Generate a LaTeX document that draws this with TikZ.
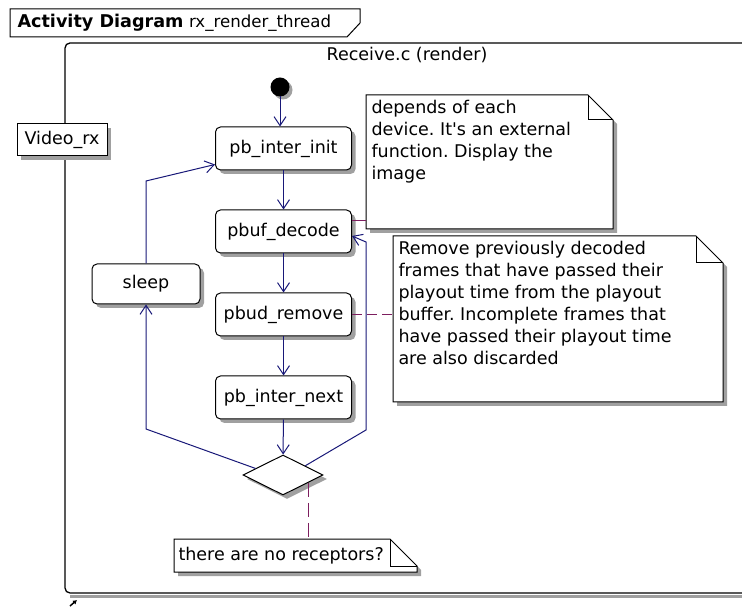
\documentclass[tikz,border=0pt]{standalone}
\usepackage{fontspec}
\setmainfont{DejaVu Sans}
\usetikzlibrary{shapes.geometric,arrows.meta,positioning,calc,shadows}
\frenchspacing

\definecolor{flow}{RGB}{24,24,120}
\definecolor{notelink}{RGB}{125,30,95}
\definecolor{shadowgray}{RGB}{160,160,160}

\tikzset{
  box shadow/.style={drop shadow={shadow xshift=4pt,shadow yshift=-4pt,fill=shadowgray,opacity=1}},
  action/.style={draw,fill=white,rounded corners=5pt,minimum width=136pt,minimum height=43pt,box shadow},
  flowline/.style={flow,-{Straight Barb[length=9pt,width=12pt]}},
  notebox/.style={inner sep=0pt,anchor=north west},
  notetext/.style={anchor=north west,align=left,inner sep=5pt},
}

% folded note outline with its shadow
\newcommand{\drawnote}[2]{%
  \fill[shadowgray] ([shift={(4pt,-4pt)}]#1.north west) -- ([shift={(4pt-#2,-4pt)}]#1.north east)
    -- ([shift={(4pt,-4pt-#2)}]#1.north east) -- ([shift={(4pt,-4pt)}]#1.south east)
    -- ([shift={(4pt,-4pt)}]#1.south west) -- cycle;
  \draw[fill=white] (#1.north west) -- ([xshift=-#2]#1.north east) -- ([yshift=-#2]#1.north east)
    -- (#1.south east) -- (#1.south west) -- cycle;
  \draw ([xshift=-#2]#1.north east) |- ([yshift=-#2]#1.north east);
}

\begin{document}
\begin{tikzpicture}[x=1pt,y=-1pt,font=\fontsize{17.5}{22}\selectfont,node distance=39pt,line width=1pt]
  \clip (0,0) rectangle (742,609);

  % title tab
  \draw[fill=white] (10,9) -- (360,9) -- (360,23) -- (347,37) -- (10,37) -- cycle;
  \node[anchor=west,inner sep=0pt] (title) at (17,23)
    {{\fontsize{17.6}{20}\selectfont\bfseries Activity Diagram} {\fontsize{16.6}{20}\selectfont rx\_render\_thread}};

  % partition frame
  \draw[shadowgray,line width=3pt] (70,596.5) -- (760,596.5);
  \draw[line width=1.3pt,rounded corners=5pt] (760,43) -- (65,43) -- (65,593) -- (760,593);
  \node (part) at (407,55) {Receive.c (render)};
  \draw[line width=1.5pt,-{Latex[length=4pt,width=5pt]}] (70,606) -- (77,600);

  \node[draw,fill=white,minimum width=90pt,minimum height=32pt,box shadow] (video) at (62,140) {Video\_rx};

  % activities
  \fill[black,drop shadow={shadow xshift=3pt,shadow yshift=-3pt,fill=shadowgray,opacity=1}] (280,87) circle (9.5pt);
  \coordinate (start) at (280,96.5);
  \node[action] (init) at (283.5,148.5) {pb\_inter\_init};
  \node[action,below=of init] (decode) {pbuf\_decode};
  \node[action,below=of decode] (remove) {pbud\_remove};
  \node[action,below=of remove] (next) {pb\_inter\_next};
  \node[action,minimum width=108pt,minimum height=40pt] (sleep) at (146,284) {sleep};
  \node[diamond,draw,fill=white,inner sep=0pt,minimum width=80pt,minimum height=40pt,box shadow] (dec) at (283,475) {};

  \draw[flowline] (start) -- (start |- init.north);
  \draw[flowline] (init) -- (decode);
  \draw[flowline] (decode) -- (remove);
  \draw[flowline] (remove) -- (next);
  \draw[flowline] (next) -- (dec);

  % loops back from the decision
  \coordinate (lback) at (146,429);
  \coordinate (ltop) at (146,181);
  \coordinate (rback) at (366,430);
  \draw[flowline] ($(dec.west)!.32!(dec.north)$) -- (lback) -- (sleep.south);
  \draw[flowline] (sleep.north) -- (ltop) -- ([yshift=6pt]init.south west);
  \draw[flowline] ($(dec.north)!.55!(dec.east)$) -- (rback) -- (rback |- 0,242) -- ([yshift=-4.5pt]decode.east);

  % notes
  \node[notebox,minimum width=246pt,minimum height=133pt] (n1) at (366,95) {};
  \drawnote{n1}{25pt}
  \node[notetext] (t1) at (n1.north west) {depends of each\\device. It\textquotesingle s an external\\function. Display the\\image};

  \node[notebox,minimum width=329pt,minimum height=165pt] (n2) at (393,236) {};
  \drawnote{n2}{27pt}
  \node[notetext] (t2) at (n2.north west) {Remove previously decoded\\frames that have passed their\\playout time from the playout\\buffer. Incomplete frames that\\have passed their playout time\\are also discarded};

  \node[notebox,minimum width=242pt,minimum height=32pt] (n3) at (174,539) {};
  \drawnote{n3}{27pt}
  \node[notetext,anchor=west,inner sep=4pt] (t3) at (n3.west) {there are no receptors?};

  \draw[notelink] ([yshift=11pt]decode.east) -- ([yshift=11pt]decode.east -| n1.west);
  \draw[notelink,dash pattern=on 10pt off 5pt] (remove) -- (remove -| n2.west);
  \draw[notelink,dash pattern=on 14pt off 6pt] ($(dec.south)!.62!(dec.east)$) coordinate (dq) -- (dq |- n3.north);
\end{tikzpicture}
\end{document}
